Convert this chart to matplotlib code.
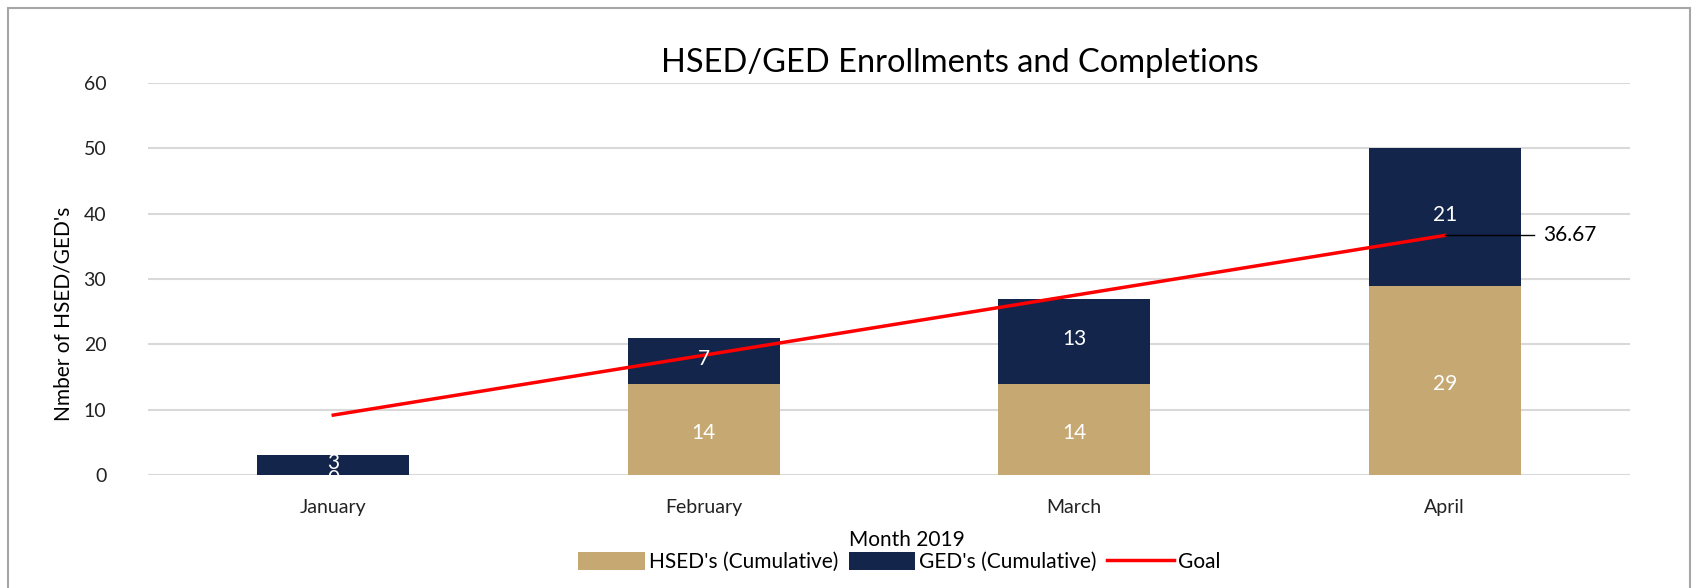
import numpy as np
from matplotlib import pyplot as plt
from matplotlib.patches import Rectangle

months = ["January", "February", "March", "April"]
hsed = [0, 14, 14, 29]
ged = [3, 7, 13, 21]
goal = [9.17, 18.33, 27.5, 36.67]

TAN = "#C5A872"
NAVY = "#13254A"
FONT = ["Lato", "DejaVu Sans"]

plt.rcParams["font.family"] = FONT

fig = plt.figure(figsize=(17, 5.88), dpi=100)
ax = fig.add_axes([148 / 1700, 1 - 475 / 588, (1630 - 148) / 1700, (475 - 83) / 588])

x = np.arange(len(months))
w = 0.41
ax.bar(x, hsed, width=w, color=TAN, label="HSED's (Cumulative)", zorder=2)
ax.bar(x, ged, width=w, bottom=hsed, color=NAVY, label="GED's (Cumulative)", zorder=2)
ax.plot(x, goal, color="#FF0000", lw=2.5, label="Goal", zorder=3)

for i in range(len(months)):
    ax.text(x[i], hsed[i] / 2 - 0.6, str(hsed[i]), color="white", ha="center", va="center", fontsize=15, zorder=4)
    ax.text(x[i], hsed[i] + ged[i] / 2 + 0.3, str(ged[i]), color="white", ha="center", va="center", fontsize=15, zorder=4)

# label for the last goal point with a leader line
ax.plot([x[-1], x[-1] + 0.24], [goal[-1], goal[-1]], color="black", lw=1, zorder=3)
ax.text(x[-1] + 0.265, goal[-1], f"{goal[-1]:.2f}", ha="left", va="center", fontsize=15)

ax.set_xlim(-0.5, len(months) - 0.5)
ax.set_ylim(0, 60)
ax.set_yticks(range(0, 61, 10))
ax.set_xticks(x)
ax.set_xticklabels(months)
ax.tick_params(axis="both", length=0, labelsize=14, colors="#222222")
ax.tick_params(axis="x", pad=17)
ax.tick_params(axis="y", pad=30)
ax.grid(axis="y", color="#D9D9D9", lw=1.5, zorder=0)
for s in ax.spines.values():
    s.set_visible(False)

ax.set_ylabel("Nmber of HSED/GED's", fontsize=15)
ax.yaxis.set_label_coords(-0.05, 0.41)
ax.set_xlabel("Month 2019", fontsize=15)
ax.xaxis.set_label_coords(0.512, -0.14)
ax.set_title("HSED/GED Enrollments and Completions", fontsize=23.5, x=0.548, y=1.0, pad=8)

h, l = ax.get_legend_handles_labels()
order = [1, 2, 0]
fig.legend([h[i] for i in order], [l[i] for i in order], loc="lower center",
           bbox_to_anchor=(0.529, -0.005), ncol=3, frameon=False,
           fontsize=15, handlelength=3.2, handleheight=1.0, handletextpad=0.2, columnspacing=0.5)

fig.patches.append(Rectangle((8 / 1700, -0.02), 1682 / 1700, 1 - 8 / 588 + 0.02,
                             transform=fig.transFigure, fill=False, edgecolor="#A6A6A6", lw=1.5))

fig.savefig("out.png", dpi=100)
